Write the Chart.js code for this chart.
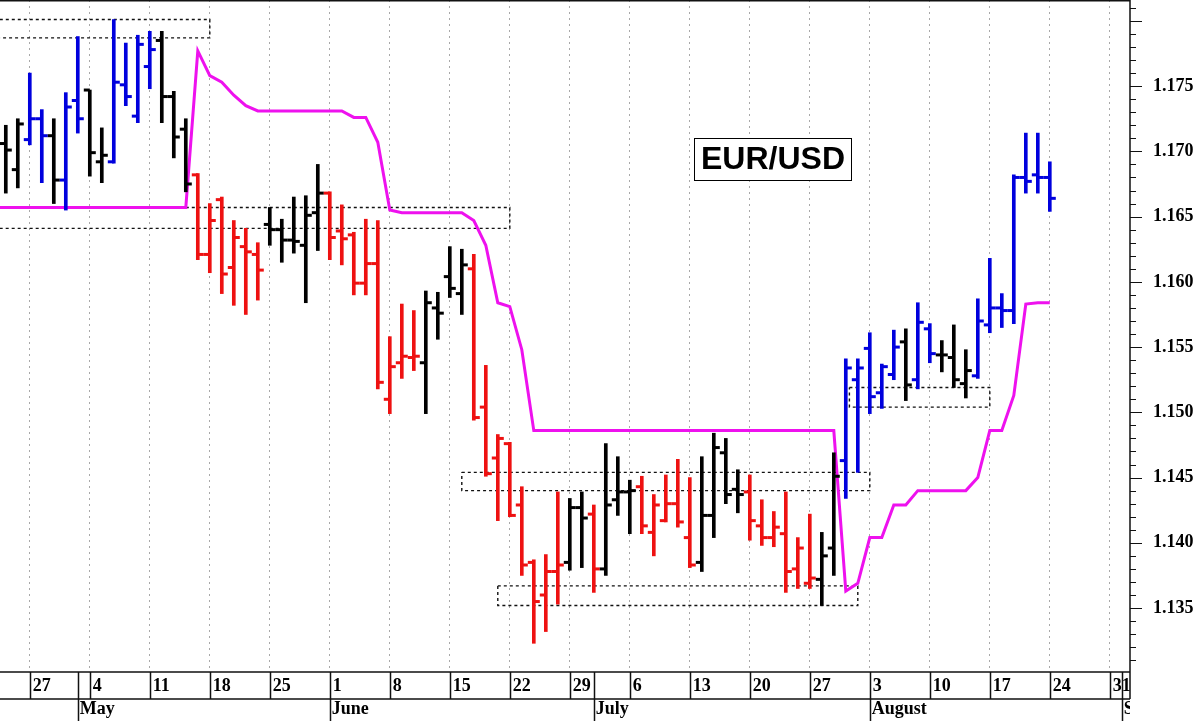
<!DOCTYPE html>
<html>
<head>
<meta charset="utf-8">
<script src="https://cdn.jsdelivr.net/npm/chart.js@4.4.1/dist/chart.umd.min.js"></script>
<style>
html,body{margin:0;padding:0;background:#fff;overflow:hidden}
canvas{display:block}
</style>
</head>
<body>
<canvas id="c" width="1200" height="721"></canvas>
<script>
// ---------------- DATA ----------------
// Daily bars, trading-day index: 0 = Mon 27 Apr, first bar is index -2
const firstBarIndex = -2;
const barColor = [
  'K','K',
  'B','B','K','B','B',
  'K','K','B','B','B',
  'B','K','K','K','R',
  'R','R','R','R','R',
  'K','K','K','K','K',
  'R','R','R','R','R',
  'R','R','R','K','K',
  'K','K','R','R','R',
  'R','R','R','R','R',
  'K','K','R','K','K',
  'K','R','R','R','R',
  'R','K','K','K','K',
  'R','R','R','R','R',
  'R','K','K','B','B',
  'B','B','B','K','B',
  'B','K','K','K','B',
  'B','B','B','B','B',
  'B'
];
const openPrices = [
  1.1706, 1.1686,
  1.1709, 1.1725, 1.1712, 1.1678, 1.1739,
  1.1747, 1.1692, 1.1692, 1.1751, 1.1727,
  1.1765, 1.1785, 1.1742, 1.1717, 1.1682,
  1.1621, 1.1663, 1.1611, 1.1627, 1.1621,
  1.1644, 1.1640, 1.1632, 1.1628, 1.1653,
  1.1668, 1.1639, 1.1636, 1.1599, 1.1614,
  1.1510, 1.1538, 1.1542, 1.1538, 1.1580,
  1.1604, 1.1591, 1.1610, 1.1504, 1.1465,
  1.1476, 1.1429, 1.1385, 1.1360, 1.1378,
  1.1385, 1.1427, 1.1422, 1.1380, 1.1433,
  1.1439, 1.1443, 1.1408, 1.1417, 1.1430,
  1.1404, 1.1385, 1.1421, 1.1469, 1.1441,
  1.1439, 1.1413, 1.1404, 1.1407, 1.1380,
  1.1369, 1.1372, 1.1396, 1.1463, 1.1525,
  1.1549, 1.1515, 1.1529, 1.1554, 1.1525,
  1.1564, 1.1544, 1.1542, 1.1522, 1.1528,
  1.1567, 1.1580, 1.1578, 1.1680, 1.1682,
  1.1680
];
const highPrices = [
  1.1720, 1.1725,
  1.1760, 1.1732, 1.1725, 1.1745, 1.1788,
  1.1747, 1.1718, 1.1801, 1.1783, 1.1789,
  1.1792, 1.1792, 1.1746, 1.1725, 1.1683,
  1.1660, 1.1665, 1.1647, 1.1641, 1.1630,
  1.1657, 1.1648, 1.1665, 1.1666, 1.1690,
  1.1669, 1.1659, 1.1638, 1.1648, 1.1647,
  1.1558, 1.1583, 1.1578, 1.1593, 1.1592,
  1.1627, 1.1625, 1.1621, 1.1536, 1.1483,
  1.1477, 1.1443, 1.1387, 1.1391, 1.1439,
  1.1434, 1.1439, 1.1429, 1.1476, 1.1466,
  1.1448, 1.1451, 1.1437, 1.1452, 1.1464,
  1.1450, 1.1466, 1.1484, 1.1480, 1.1456,
  1.1452, 1.1433, 1.1424, 1.1439, 1.1404,
  1.1422, 1.1408, 1.1469, 1.1541, 1.1541,
  1.1561, 1.1537, 1.1563, 1.1564, 1.1584,
  1.1568, 1.1555, 1.1567, 1.1548, 1.1587,
  1.1618, 1.1591, 1.1682, 1.1714, 1.1714,
  1.1692
];
const lowPrices = [
  1.1668, 1.1672,
  1.1705, 1.1676, 1.1660, 1.1655, 1.1714,
  1.1681, 1.1676, 1.1691, 1.1735, 1.1722,
  1.1748, 1.1722, 1.1695, 1.1669, 1.1617,
  1.1607, 1.1591, 1.1582, 1.1575, 1.1586,
  1.1628, 1.1615, 1.1622, 1.1584, 1.1624,
  1.1617, 1.1613, 1.1590, 1.1590, 1.1518,
  1.1499, 1.1526, 1.1532, 1.1499, 1.1556,
  1.1588, 1.1575, 1.1494, 1.1451, 1.1417,
  1.1420, 1.1375, 1.1323, 1.1332, 1.1353,
  1.1379, 1.1381, 1.1362, 1.1375, 1.1421,
  1.1407, 1.1407, 1.1390, 1.1416, 1.1412,
  1.1381, 1.1378, 1.1404, 1.1430, 1.1423,
  1.1402, 1.1398, 1.1397, 1.1362, 1.1365,
  1.1365, 1.1352, 1.1375, 1.1434, 1.1454,
  1.1499, 1.1503, 1.1525, 1.1509, 1.1518,
  1.1538, 1.1531, 1.1519, 1.1511, 1.1526,
  1.1561, 1.1565, 1.1568, 1.1668, 1.1668,
  1.1654
];
const closePrices = [
  1.1701, 1.1721,
  1.1725, 1.1712, 1.1678, 1.1734, 1.1725,
  1.1699, 1.1697, 1.1753, 1.1742, 1.1782,
  1.1778, 1.1742, 1.1711, 1.1675, 1.1621,
  1.1647, 1.1606, 1.1634, 1.1623, 1.1609,
  1.1640, 1.1632, 1.1631, 1.1651, 1.1668,
  1.1634, 1.1633, 1.1599, 1.1614, 1.1523,
  1.1535, 1.1543, 1.1543, 1.1584, 1.1576,
  1.1595, 1.1613, 1.1496, 1.1453, 1.1480,
  1.1421, 1.1383, 1.1355, 1.1378, 1.1383,
  1.1427, 1.1419, 1.1380, 1.1429, 1.1439,
  1.1440, 1.1413, 1.1429, 1.1430, 1.1416,
  1.1383, 1.1421, 1.1473, 1.1437, 1.1437,
  1.1417, 1.1404, 1.1412, 1.1378, 1.1396,
  1.1373, 1.1390, 1.1451, 1.1534, 1.1534,
  1.1512, 1.1535, 1.1550, 1.1521, 1.1569,
  1.1545, 1.1544, 1.1525, 1.1532, 1.1570,
  1.1580, 1.1578, 1.1680, 1.1677, 1.1680,
  1.1664
];
// Magenta stop line, one value per trading day, starting at index -3
const stopFirstIndex = -3;
const stopLevels = [
  1.1657, 1.1657, 1.1657,
  1.1657, 1.1657, 1.1657, 1.1657, 1.1657,
  1.1657, 1.1657, 1.1657, 1.1657, 1.1657,
  1.1657, 1.1657, 1.1657, 1.1657, 1.1777,
  1.1758, 1.1753, 1.1743, 1.1735, 1.1731,
  1.1731, 1.1731, 1.1731, 1.1731, 1.1731,
  1.1731, 1.1731, 1.1726, 1.1726, 1.1707,
  1.1655, 1.1653, 1.1653, 1.1653, 1.1653,
  1.1653, 1.1653, 1.1647, 1.1628, 1.1584,
  1.1581, 1.1548, 1.1486, 1.1486, 1.1486,
  1.1486, 1.1486, 1.1486, 1.1486, 1.1486,
  1.1486, 1.1486, 1.1486, 1.1486, 1.1486,
  1.1486, 1.1486, 1.1486, 1.1486, 1.1486,
  1.1486, 1.1486, 1.1486, 1.1486, 1.1486,
  1.1486, 1.1486, 1.1486, 1.1363, 1.1369,
  1.1404, 1.1404, 1.1429, 1.1429, 1.1440,
  1.1440, 1.1440, 1.1440, 1.1440, 1.1450,
  1.1486, 1.1486, 1.1513, 1.1583, 1.1584,
  1.1584
];
// Dotted range boxes (trading-day index range, price range)
const boxFrom  = [-4,     -4,     36,     39,     68.3];
const boxTo    = [15,     40,     70,     69,     80];
const boxHigh  = [1.1801, 1.1657, 1.1454, 1.1367, 1.1519];
const boxLow   = [1.1787, 1.1641, 1.1440, 1.1352, 1.1504];
// Axis ticks
const weekTickIndex  = [0,5,10,15,20,25,30,35,40,45,50,55,60,65,70,75,80,85,90];
const weekTickLabels = ['27','4','11','18','25','1','8','15','22','29','6','13','20','27','3','10','17','24','31'];
const monthTickIndex  = [4,25,47,70,91];
const monthTickLabels = ['May','June','July','August','September'];
const yLabelValues = [1.135,1.140,1.145,1.150,1.155,1.160,1.165,1.170,1.175];
const yMinorFrom = 1.131, yMinorTo = 1.181, yMinorStep = 0.001;
const xRange = [-2.483, 91.683];
const yRange = [1.1301, 1.1816];
const titleText = 'EUR/USD';

// ---------------- STYLE ----------------
const COLORS = {B:'#0000dd', K:'#000000', R:'#ee1111'};
const STOP_COLOR = '#ee11ee';
const TICK_SHIFT = 0.25;   // open/close tick centre, in trading days
const SERIF = '"Liberation Serif", "Times New Roman", serif';
const SANS = '"Liberation Sans", Arial, sans-serif';

const barCols = barColor.map(c => COLORS[c]);
const barIdx = openPrices.map((_, k) => firstBarIndex + k);

const datasets = [];
datasets.push({
  type: 'line', label: 'open', showLine: false, order: 0,
  data: openPrices.map((v, k) => ({x: barIdx[k] - TICK_SHIFT, y: v})),
  pointStyle: 'line', pointRadius: 3, pointHoverRadius: 3,
  pointBorderWidth: 3, pointHoverBorderWidth: 3, pointBorderColor: barCols
});
datasets.push({
  type: 'line', label: 'close', showLine: false, order: 0,
  data: closePrices.map((v, k) => ({x: barIdx[k] + TICK_SHIFT, y: v})),
  pointStyle: 'line', pointRadius: 3, pointHoverRadius: 3,
  pointBorderWidth: 3, pointHoverBorderWidth: 3, pointBorderColor: barCols
});
datasets.push({
  type: 'bar', label: 'range', order: 1, grouped: false,
  data: highPrices.map((h, k) => ({x: barIdx[k], y: [lowPrices[k], h]})),
  backgroundColor: barCols, borderWidth: 0, barThickness: 3
});
datasets.push({
  type: 'line', label: 'stop', order: 2,
  data: stopLevels.map((v, k) => ({x: stopFirstIndex + k, y: v})),
  borderColor: STOP_COLOR, borderWidth: 3, pointRadius: 0, tension: 0, fill: false
});
boxFrom.forEach((x1, b) => {
  const x2 = boxTo[b], hi = boxHigh[b], lo = boxLow[b];
  datasets.push({
    type: 'line', label: 'box' + b, order: 3,
    data: [{x:x1,y:hi},{x:x2,y:hi},{x:x2,y:lo},{x:x1,y:lo},{x:x1,y:hi}],
    borderColor: '#111', borderWidth: 1.4, borderDash: [3, 3],
    pointRadius: 0, tension: 0, fill: false
  });
});

function zeroPad(s) { s.paddingLeft = 0; s.paddingRight = 0; s.paddingTop = 0; s.paddingBottom = 0; }

const framePlugin = {
  id: 'frame',
  beforeDraw(chart) {
    const {ctx, chartArea: a} = chart;
    ctx.save();
    ctx.fillStyle = '#fff';
    ctx.fillRect(0, 0, chart.width, chart.height);
    ctx.restore();
    // clip: nothing below the axis box to the right of the plot
    ctx.save();
    ctx.beginPath();
    ctx.rect(0, 0, chart.width, a.bottom);
    ctx.rect(0, a.bottom, a.right, chart.height - a.bottom);
    ctx.clip();
  },
  afterDraw(chart) {
    const {ctx, chartArea: a, scales} = chart;
    ctx.restore();
    const xs = scales.x, xm = scales.xm, ys = scales.y;
    const rowTop = a.bottom, rowMid = xs.bottom, rowBot = xm.bottom;
    ctx.save();
    ctx.strokeStyle = '#111';
    ctx.lineWidth = 1.5;
    ctx.beginPath();
    // plot frame
    ctx.moveTo(0, 0.75); ctx.lineTo(a.right, 0.75);
    ctx.moveTo(a.right, 0); ctx.lineTo(a.right, rowMid);
    ctx.moveTo(0, rowTop); ctx.lineTo(a.right, rowTop);
    ctx.moveTo(0, rowMid); ctx.lineTo(a.right, rowMid);
    // week separators
    weekTickIndex.forEach(v => {
      const px = Math.round(xs.getPixelForValue(v)) + 0.5;
      ctx.moveTo(px, rowTop); ctx.lineTo(px, rowMid);
    });
    // month separators
    monthTickIndex.forEach(v => {
      const px = Math.round(xm.getPixelForValue(v)) + 0.5;
      if (px <= a.right + 1) { ctx.moveTo(px, rowTop); ctx.lineTo(px, rowBot); }
    });
    ctx.stroke();
    // y ticks
    ctx.lineWidth = 1.2;
    ctx.beginPath();
    const n = Math.round((yMinorTo - yMinorFrom) / yMinorStep);
    for (let k = 0; k <= n; k++) {
      const v = yMinorFrom + k * yMinorStep;
      const major = Math.abs(v * 200 - Math.round(v * 200)) < 1e-6;
      const py = Math.round(ys.getPixelForValue(v)) + 0.5;
      ctx.moveTo(a.right, py); ctx.lineTo(a.right + (major ? 12 : 6), py);
    }
    ctx.stroke();
    // title box
    const bx = a.left + 694, by = a.top + 138, bw = 157, bh = 42;
    ctx.fillStyle = '#fff';
    ctx.fillRect(bx, by, bw, bh);
    ctx.lineWidth = 1;
    ctx.strokeStyle = '#000';
    ctx.strokeRect(bx + 0.5, by + 0.5, bw, bh);
    ctx.fillStyle = '#000';
    ctx.font = 'bold 32px ' + SANS;
    ctx.textAlign = 'center';
    ctx.textBaseline = 'middle';
    ctx.fillText(titleText, bx + bw / 2 + 0.5, by + bh / 2 + 1.5);
    ctx.restore();
  }
};

new Chart(document.getElementById('c'), {
  type: 'bar',
  data: { datasets },
  options: {
    responsive: false,
    animation: false,
    devicePixelRatio: 1,
    events: [],
    layout: { padding: 0, autoPadding: false },
    plugins: { legend: {display: false}, tooltip: {enabled: false}, title: {display: false} },
    scales: {
      x: {
        type: 'linear', position: 'bottom', weight: 0, offset: false,
        min: xRange[0], max: xRange[1],
        afterBuildTicks: s => { s.ticks = weekTickIndex.map(v => ({value: v})); },
        afterFit: s => { s.height = 27; zeroPad(s); },
        ticks: {
          autoSkip: false, maxRotation: 0, minRotation: 0, align: 'start',
          padding: 4, labelOffset: 3, color: '#000',
          font: {family: SERIF, size: 18, weight: 'bold'},
          callback: v => weekTickLabels[weekTickIndex.indexOf(v)]
        },
        grid: { display: true, drawOnChartArea: true, drawTicks: false, offset: false,
                color: '#a8a8a8', lineWidth: 1 },
        border: { display: false, dash: [2, 4] }
      },
      xm: {
        type: 'linear', position: 'bottom', weight: 1, offset: false, axis: 'x',
        min: xRange[0], max: xRange[1],
        afterBuildTicks: s => { s.ticks = monthTickIndex.map(v => ({value: v})); },
        afterFit: s => { s.height = 22; zeroPad(s); },
        ticks: {
          autoSkip: false, maxRotation: 0, minRotation: 0, align: 'start',
          padding: 0, labelOffset: 2, color: '#000',
          font: {family: SERIF, size: 18, weight: 'bold'},
          callback: v => monthTickLabels[monthTickIndex.indexOf(v)]
        },
        grid: { display: false, drawTicks: false },
        border: { display: false }
      },
      y: {
        type: 'linear', position: 'right', min: yRange[0], max: yRange[1],
        afterBuildTicks: s => { s.ticks = yLabelValues.map(v => ({value: v})); },
        afterFit: s => { s.width = 70; zeroPad(s); },
        ticks: {
          autoSkip: false, padding: 23, color: '#000',
          font: {family: SERIF, size: 18, weight: 'bold'},
          callback: v => v.toFixed(3)
        },
        grid: { display: false, drawTicks: false },
        border: { display: false }
      }
    }
  },
  plugins: [framePlugin]
});
</script>
</body>
</html>
